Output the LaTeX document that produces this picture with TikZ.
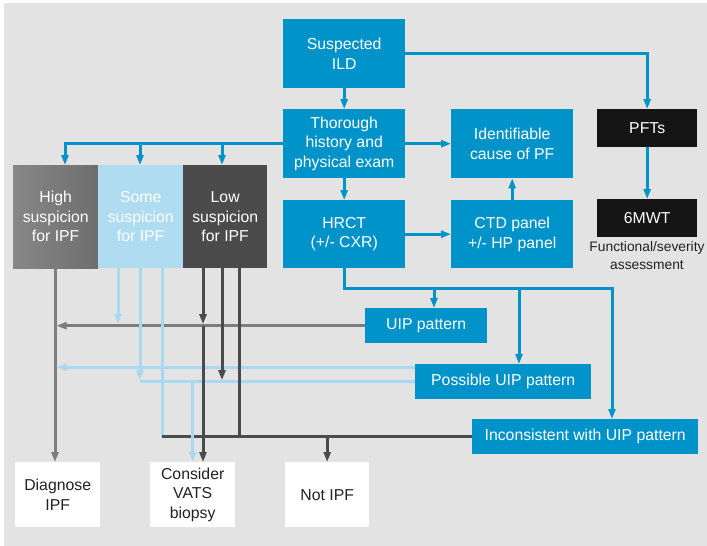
\documentclass[tikz,border=0pt]{standalone}
\usepackage{fontspec}
\setmainfont{Liberation Sans}
\usetikzlibrary{arrows.meta}

\definecolor{panelgrey}{HTML}{E3E3E3}
\definecolor{ildblue}{HTML}{0093C9}
\definecolor{paleblue}{HTML}{B0DCF2}
\definecolor{palebluel}{HTML}{A9D9F1}
\definecolor{midgrey}{HTML}{7D7D7D}
\definecolor{darkgrey}{HTML}{4B4B4B}
\definecolor{nearblack}{HTML}{151515}
\definecolor{inkgrey}{HTML}{222222}
\definecolor{highlight}{HTML}{878787}
\definecolor{highdark}{HTML}{6E6E6E}

\newcommand\boxfont{\fontsize{15.8}{19.5}\selectfont}
\newcommand\notefont{\fontsize{13.8}{18}\selectfont}

\begin{document}
\begin{tikzpicture}[x=1pt,y=-1pt,
  box/.style={inner sep=0pt, anchor=north west, align=center, font=\boxfont},
  bluebox/.style={box, fill=ildblue, text=white},
  blackbox/.style={box, fill=nearblack, text=white},
  whitebox/.style={box, fill=white, text=inkgrey},
  arr/.style={-{Triangle[width=7pt,length=10pt]}},
  bl/.style={draw=ildblue, line width=3pt},
  gl/.style={draw=midgrey, line width=3pt},
  lb/.style={draw=palebluel, line width=3pt},
  dl/.style={draw=darkgrey, line width=3pt}]

\useasboundingbox (0,0) rectangle (707,546);
\fill[panelgrey] (4,3) rectangle (707,546);

% main workup column
\node[bluebox, minimum width=122pt, minimum height=69pt] (ild)  at (283,19)  {Suspected\\ILD};
\node[bluebox, minimum width=122pt, minimum height=69pt] (thor) at (283,109) {Thorough\\history and\\physical exam};
\node[bluebox, minimum width=122pt, minimum height=68pt] (hrct) at (283,200) {HRCT\\(+/- CXR)};
\node[bluebox, minimum width=122pt, minimum height=69pt] (ident) at (451,109) {Identifiable\\cause of PF};
\node[bluebox, minimum width=122pt, minimum height=68pt] (ctd)  at (451,200) {CTD panel\\+/- HP panel};

% functional assessment
\node[blackbox, minimum width=100pt, minimum height=38pt] (pfts) at (597,109) {PFTs};
\node[blackbox, minimum width=100pt, minimum height=38pt] (mwt)  at (597,199) {6MWT};
\node[align=center, inner sep=0pt, font=\notefont, text=inkgrey] (fsa) at (647,256) {Functional/severity\\assessment};

% clinical suspicion
\node[box, text=white, left color=highlight, right color=highdark, minimum width=85pt, minimum height=103pt] (high) at (13,165) {High\\suspicion\\for IPF};
\node[box, text=white, fill=paleblue, minimum width=85pt, minimum height=103pt] (some) at (98,165) {Some\\suspicion\\for IPF};
\node[box, text=white, fill=darkgrey, minimum width=84pt, minimum height=103pt] (low) at (183,165) {Low\\suspicion\\for IPF};

% HRCT patterns
\node[bluebox, minimum width=122pt, minimum height=35pt] (uip)   at (365,308) {UIP pattern};
\node[bluebox, minimum width=176pt, minimum height=35pt] (poss)  at (415,364) {Possible UIP pattern};
\node[bluebox, minimum width=226pt, minimum height=35pt] (incon) at (472,419) {Inconsistent with UIP pattern};

% outcomes
\node[whitebox, minimum width=85pt, minimum height=65pt] (diag)   at (15,462)  {Diagnose\\IPF};
\node[whitebox, minimum width=85pt, minimum height=65pt] (vats)   at (150,462) {Consider\\VATS\\biopsy};
\node[whitebox, minimum width=84pt, minimum height=65pt] (notipf) at (285,462) {Not IPF};

% attachment points
\coordinate (hiIn)  at ([xshift=52pt]high.north west);
\coordinate (someIn) at ([xshift=42pt]some.north west);
\coordinate (lowIn) at ([xshift=39pt]low.north west);
\coordinate (hiOut) at ([xshift=42pt]high.south west);
\coordinate (someA) at ([xshift=20pt]some.south west);
\coordinate (someB) at ([xshift=42pt]some.south west);
\coordinate (someC) at ([xshift=64pt]some.south west);
\coordinate (lowA)  at ([xshift=20pt]low.south west);
\coordinate (lowB)  at ([xshift=39pt]low.south west);
\coordinate (lowC)  at ([xshift=56pt]low.south west);
\coordinate (bus)   at ([yshift=-20pt]hrct.south);
\coordinate (uipIn)   at ([xshift=69pt]uip.north west);
\coordinate (possIn)  at ([xshift=104pt]poss.north west);
\coordinate (inconIn) at ([xshift=140pt]incon.north west);
\coordinate (possHi)  at ([yshift=14.5pt]poss.west);

% blue workflow connectors
\draw[bl,arr] (ild.south) -- (thor.north);
\draw[bl,arr] (thor.south) -- (hrct.north);
\draw[bl,arr] (thor.east) -- (ident.west);
\draw[bl,arr] (hrct.east) -- (ctd.west);
\draw[bl,arr] (ctd.north) -- (ident.south);
\draw[bl,arr] (ild.east) -| (pfts.north);
\draw[bl,arr] (pfts.south) -- (mwt.north);
\draw[bl,arr] (thor.west) -| (hiIn);
\draw[bl,arr] (someIn |- thor.west) -- (someIn);
\draw[bl,arr] (lowIn |- thor.west) -- (lowIn);
\draw[bl,arr] (hrct.south) -- (bus) -| (inconIn);
\draw[bl,arr] (bus -| uipIn) -- (uipIn);
\draw[bl,arr] (bus -| possIn) -- (possIn);

% high suspicion and UIP pattern
\draw[gl,arr] (hiOut) -- (hiOut |- diag.north);
\draw[gl,arr,shorten >=1.5pt] (uip.west) -- (uip.west -| hiOut);

% some suspicion
\draw[lb,arr,shorten >=1.5pt] (possHi) -- (possHi -| hiOut);
\draw[lb,arr,shorten >=1.5pt] (someA) -- (someA |- uip.west);
\draw[lb,arr,shorten >=1.5pt] (someB) -- (someB |- poss.west);
\draw[lb] (poss.west) -- (poss.west -| someB);
\draw[lb] (someC) -- (someC |- incon.west);

% low suspicion and inconsistent pattern
\draw[dl] (someC |- incon.west) -- (incon.west);
\draw[dl,arr,shorten >=1.5pt] (lowA) -- (lowA |- uip.west);
\draw[dl,arr] (lowA |- uip.west) -- (lowA |- vats.north);
\draw[dl,arr,shorten >=1.5pt] (lowB) -- (lowB |- poss.west);
\draw[dl] (lowC) -- (lowC |- incon.west);
\draw[dl,arr] (notipf.north |- incon.west) -- (notipf.north);

% possible UIP with some suspicion leads to biopsy
\draw[lb,arr] (vats.north |- poss.west) -- (vats.north);

\end{tikzpicture}
\end{document}
